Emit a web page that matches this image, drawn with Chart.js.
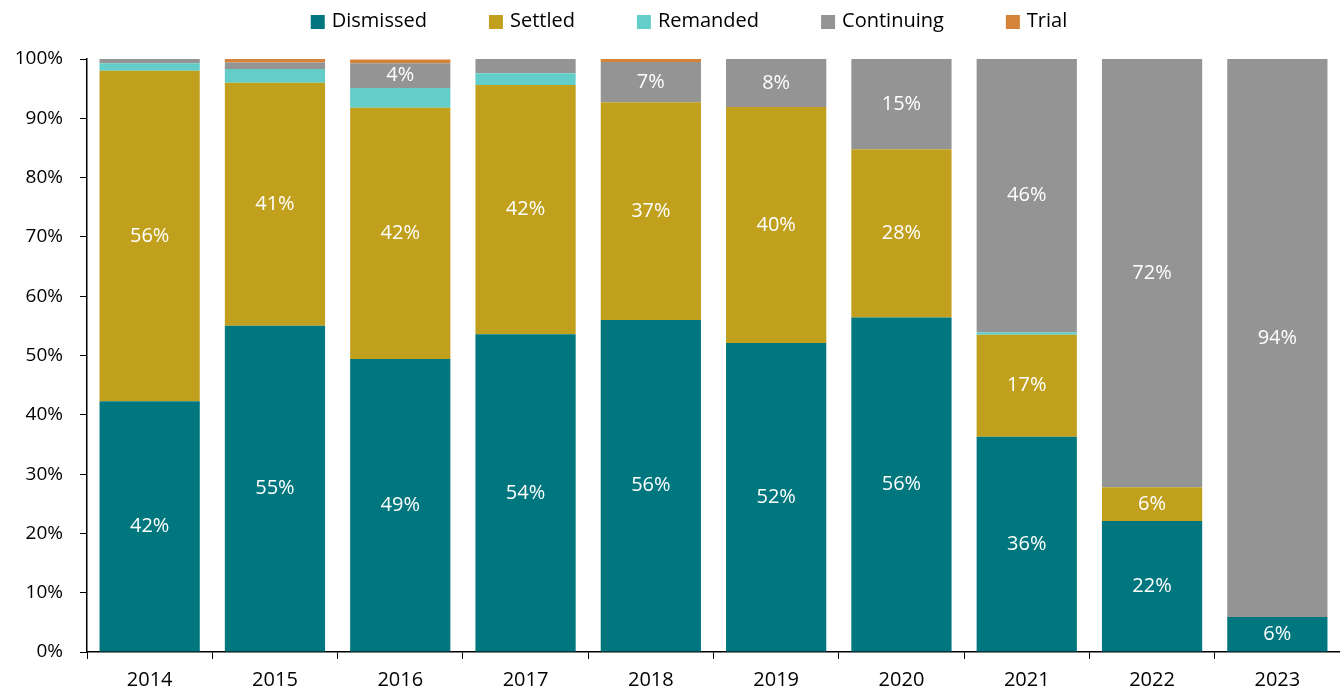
<!DOCTYPE html>
<html>
<head>
<meta charset="utf-8">
<script src="https://cdn.jsdelivr.net/npm/chart.js@4"></script>
<style>
  html, body { margin: 0; padding: 0; background: #fff; }
  #wrap { width: 1340px; height: 692px; }
</style>
</head>
<body>
<div id="wrap"><canvas id="casesChart"></canvas></div>
<script>
// outcome share per year, in percent
var years = ["2014", "2015", "2016", "2017", "2018", "2019", "2020", "2021", "2022", "2023"];
var dismissed  = [42.3, 55.0, 49.4, 53.6, 56.0, 52.1, 56.4, 36.3, 22.1, 5.9];
var settled    = [55.7, 41.0, 42.4, 42.0, 36.7, 39.8, 28.4, 17.2, 5.7, 0];
var remanded   = [1.3, 2.3, 3.3, 2.0, 0, 0, 0, 0.4, 0, 0];
var continuing = [0.7, 1.1, 4.2, 2.4, 6.8, 8.1, 15.2, 46.1, 72.2, 94.1];
var trial      = [0, 0.6, 0.6, 0, 0.5, 0, 0, 0, 0, 0];
var yTicks = [0, 10, 20, 30, 40, 50, 60, 70, 80, 90, 100];

var FONT = "'Open Sans', 'Noto Sans', sans-serif";

// white percentage labels inside segments big enough to hold them
var segmentLabels = {
  id: "segmentLabels",
  afterDatasetsDraw: function (chart) {
    var ctx = chart.ctx;
    ctx.save();
    ctx.fillStyle = "#ffffff";
    ctx.font = "20px " + FONT;
    ctx.textAlign = "center";
    ctx.textBaseline = "middle";
    chart.data.datasets.forEach(function (ds, i) {
      var meta = chart.getDatasetMeta(i);
      meta.data.forEach(function (bar, j) {
        var v = ds.data[j];
        if (Math.round(v) < 4) return;
        ctx.fillText(Math.round(v) + "%", bar.x, (bar.y + bar.base) / 2);
      });
    });
    ctx.restore();
  }
};

// legend drawn by hand so the item gap and the row height can differ
var topLegend = {
  id: "topLegend",
  afterDraw: function (chart) {
    var ctx = chart.ctx;
    var box = 14, gapText = 7, gapItem = 62, centerX = 689, y = 22;
    ctx.save();
    ctx.font = "20px " + FONT;
    ctx.textBaseline = "middle";
    var items = chart.data.datasets.map(function (ds) {
      return { text: ds.label, color: ds.backgroundColor, w: ctx.measureText(ds.label).width };
    });
    var total = 0;
    items.forEach(function (it, i) {
      total += box + gapText + it.w + (i ? gapItem : 0);
    });
    var x = centerX - total / 2;
    items.forEach(function (it) {
      ctx.fillStyle = it.color;
      ctx.fillRect(x, y - box / 2, box, box);
      ctx.fillStyle = "#000";
      ctx.fillText(it.text, x + box + gapText, y - 1);
      x += box + gapText + it.w + gapItem;
    });
    ctx.restore();
  }
};

var ctx = document.getElementById("casesChart").getContext("2d");
var casesChart = new Chart(ctx, {
  type: "bar",
  data: {
    labels: years,
    datasets: [
      { label: "Dismissed", data: dismissed, backgroundColor: "#00777e" },
      { label: "Settled", data: settled, backgroundColor: "#c1a01e" },
      { label: "Remanded", data: remanded, backgroundColor: "#62cdc9" },
      { label: "Continuing", data: continuing, backgroundColor: "#949494" },
      { label: "Trial", data: trial, backgroundColor: "#d5823a" }
    ]
  },
  options: {
    responsive: true,
    maintainAspectRatio: false,
    animation: false,
    datasets: {
      bar: { categoryPercentage: 1.0, barPercentage: 0.8 }
    },
    layout: { padding: { left: 0, right: 0, top: 59, bottom: 0 } },
    plugins: {
      tooltip: { enabled: false },
      legend: { display: false }
    },
    scales: {
      x: {
        stacked: true,
        border: { color: "#000", width: 1.5 },
        grid: {
          display: true,
          drawOnChartArea: false,
          color: "#000",
          tickLength: 7,
          offset: true
        },
        ticks: {
          font: { family: FONT, size: 20 },
          color: "#000",
          padding: 9
        },
        afterFit: function (s) { s.height = 40; }
      },
      y: {
        stacked: true,
        min: 0,
        max: 100,
        border: { color: "#000", width: 1.5 },
        grid: {
          display: true,
          drawOnChartArea: false,
          color: "#000",
          tickLength: 7
        },
        afterBuildTicks: function (s) {
          s.ticks = yTicks.map(function (v) { return { value: v }; });
        },
        ticks: {
          font: { family: FONT, size: 19 },
          color: "#000",
          padding: 17,
          callback: function (v) { return v + "%"; }
        },
        afterFit: function (s) { s.width = 87; }
      }
    }
  },
  plugins: [segmentLabels, topLegend]
});
</script>
</body>
</html>
